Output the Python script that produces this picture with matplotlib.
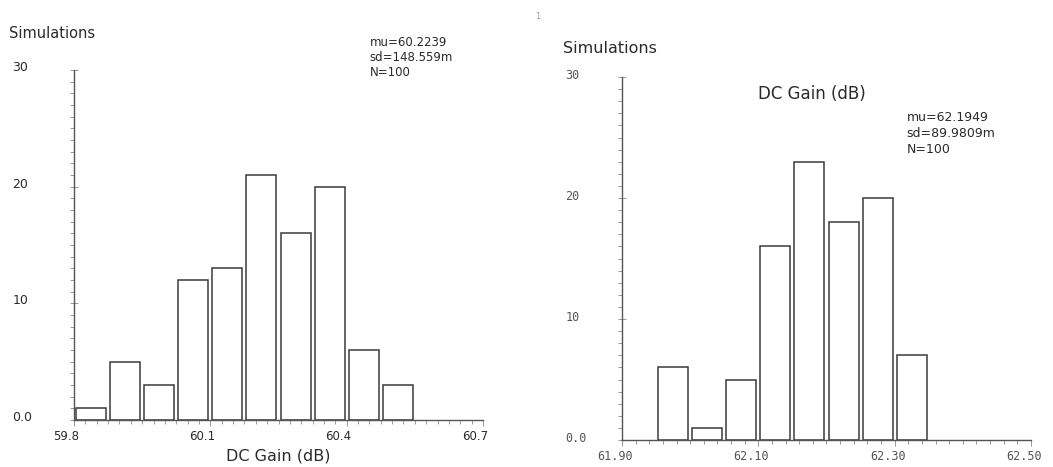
import matplotlib
matplotlib.use("Agg")
from matplotlib import pyplot as plt
from matplotlib.ticker import MultipleLocator, FixedLocator
from matplotlib.transforms import ScaledTranslation
import numpy as np

# Left histogram data
left_start = 59.8
left_bin = 0.075
left_counts = [1, 5, 3, 12, 13, 21, 16, 20, 6, 3]
left_stats = ["mu=60.2239", "sd=148.559m", "N=100"]
left_xticks = [59.8, 60.1, 60.4, 60.7]
left_xlabels = ["59.8", "60.1", "60.4", "60.7"]

# Right histogram data
right_start = 61.95
right_bin = 0.05
right_counts = [6, 1, 5, 16, 23, 18, 20, 7]
right_stats = ["mu=62.1949", "sd=89.9809m", "N=100"]
right_xticks = [61.90, 62.10, 62.30, 62.50]
right_xlabels = ["61.90", "62.10", "62.30", "62.50"]

yticks = [0, 10, 20, 30]
yticklabels = ["0.0", "10", "20", "30"]

fig = plt.figure(figsize=(10.53, 4.67), dpi=100)
ax1 = fig.add_axes([0.0703, 0.1006, 0.3884, 0.7495])
ax2 = fig.add_axes([0.5907, 0.0578, 0.3884, 0.7773])

text_col = "#2a2a2a"
axis_col = "#555555"
bar_col = "#3a3a3a"


def style_axis(ax, xlim, minor_x):
    ax.set_xlim(*xlim)
    ax.set_ylim(0, 30)
    for s in ["top", "right"]:
        ax.spines[s].set_visible(False)
    for s in ["left", "bottom"]:
        ax.spines[s].set_color(axis_col)
        ax.spines[s].set_linewidth(1.0)
    ax.yaxis.set_major_locator(FixedLocator(yticks))
    ax.yaxis.set_minor_locator(MultipleLocator(1))
    ax.xaxis.set_minor_locator(MultipleLocator(minor_x))
    ax.tick_params(axis="both", which="minor", length=3, width=0.6,
                   color="#888888", direction="out")
    ax.tick_params(axis="y", which="major", length=6, width=0.6,
                   color="#888888", direction="inout")
    ax.tick_params(axis="x", which="major", length=4, width=0.6,
                   color="#888888", direction="out")


def draw_hist(ax, start, width, counts):
    n = len(counts)
    centers = start + width * (np.arange(n) + 0.5)
    ax.bar(centers, counts, width=width * 0.88, facecolor="white",
           edgecolor=bar_col, linewidth=1.1)


# Left chart
style_axis(ax1, (59.8, 60.7), 0.025)
draw_hist(ax1, left_start, left_bin, left_counts)
ax1.set_xticks(left_xticks)
ax1.set_xticklabels(left_xlabels, fontsize=8.5, color=text_col)
ax1.set_yticklabels(yticklabels, fontsize=9, color=text_col)
ax1.tick_params(axis="y", which="major", pad=40)
ax1.tick_params(axis="x", which="major", pad=3)
ax1.set_xlabel("DC Gain (dB)", fontsize=11.5, color=text_col, labelpad=4)
for lab in ax1.get_xticklabels():
    lab.set_transform(lab.get_transform() + ScaledTranslation(-0.08, 0, fig.dpi_scale_trans))
for lab in ax1.get_yticklabels():
    lab.set_horizontalalignment("left")
    lab.set_transform(lab.get_transform() + ScaledTranslation(-0.02, 0.04, fig.dpi_scale_trans))
fig.text(0.009, 0.929, "Simulations", fontsize=10.5, color=text_col, va="center")
for i, s in enumerate(left_stats):
    fig.text(0.351, 0.910 - i * 0.033, s, fontsize=8.5, color=text_col, va="center")

# Right chart
style_axis(ax2, (61.90, 62.50), 0.02)
draw_hist(ax2, right_start, right_bin, right_counts)
ax2.set_xticks(right_xticks)
ax2.set_xticklabels(right_xlabels, fontsize=8.5, color="#555555",
                    family="DejaVu Sans Mono")
ax2.set_yticklabels(yticklabels, fontsize=8.5, color="#555555",
                    family="DejaVu Sans Mono")
ax2.tick_params(axis="y", which="major", pad=40)
ax2.tick_params(axis="x", which="major", pad=3)
for lab in ax2.get_xticklabels():
    lab.set_transform(lab.get_transform() + ScaledTranslation(-0.07, 0, fig.dpi_scale_trans))
for lab in ax2.get_yticklabels():
    lab.set_horizontalalignment("left")
    lab.set_transform(lab.get_transform() + ScaledTranslation(0.03, 0.03, fig.dpi_scale_trans))
fig.text(0.771, 0.799, "DC Gain (dB)", fontsize=12, color=text_col,
         ha="center", va="center")
fig.text(0.535, 0.897, "Simulations", fontsize=11.5, color=text_col, va="center")
for i, s in enumerate(right_stats):
    fig.text(0.861, 0.749 - i * 0.035, s, fontsize=9, color=text_col, va="center")

fig.text(0.508, 0.965, "1", fontsize=6, color="#999999", va="center")

fig.savefig("out.png", dpi=100)
